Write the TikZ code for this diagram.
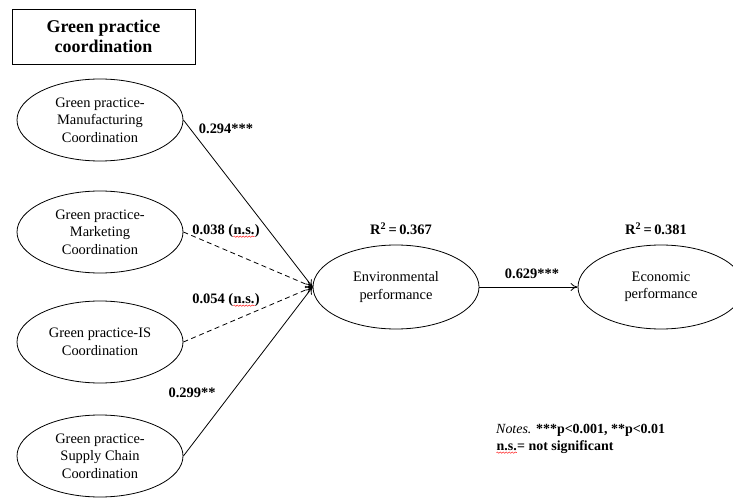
\documentclass[tikz,border=0pt]{standalone}
\usepackage{fontspec}
\setmainfont{Liberation Serif}
\usetikzlibrary{arrows.meta,positioning,shapes.geometric,decorations.pathmorphing}

\newcommand{\nswave}{\tikz[baseline=(t.base)]{\node[inner sep=0pt,font=\bfseries] (t) {n.s.};
 \draw[red,line width=0.4pt,decorate,decoration={snake,amplitude=0.7pt,segment length=3pt}] ([yshift=-2.2pt]t.base west) -- ([yshift=-2.2pt]t.base east);}}

\begin{document}
\begin{tikzpicture}[x=1bp,y=-1bp,line width=0.8bp,
 every node/.style={font=\fontsize{13}{16}\selectfont},
 e/.style={draw,ellipse,minimum width=166bp,minimum height=82bp,inner sep=0pt,align=center,font=\fontsize{14.5}{17.5}\selectfont},
 lab/.style={font=\bfseries\fontsize{14.5}{16}\selectfont,inner sep=1pt},
 arr/.style={-{To[length=7pt,width=8pt]}},
 dsh/.style={dash pattern=on 5bp off 3.5bp}]
\useasboundingbox (0,0) rectangle (733,498);
\node[draw,minimum width=183bp,minimum height=55bp,align=center,font=\bfseries\fontsize{18}{20.5}\selectfont] (title) at (103.5,36.5) {Green practice\\coordination};
\node[e] (man) at (100,120) {Green practice-\\Manufacturing\\Coordination};
\node[e] (mkt) at (100,232) {Green practice-\\Marketing\\Coordination};
\node[e] (is) at (100,342) {Green practice-IS\\Coordination};
\node[e] (sc) at (100,456) {Green practice-\\Supply Chain\\Coordination};
\node[e,minimum height=84bp] (env) at (396,287) {Environmental\\performance};
\node[e,minimum height=84bp] (eco) at (661,287) {Economic\\performance};
% paths
\draw[arr] (man.east) -- (env.west);
\draw[arr,dsh] (mkt.east) -- (env.west);
\draw[arr,dsh] (is.east) -- (env.west);
\draw[arr] (sc.east) -- (env.west);
\draw[arr] (env.east) -- (eco.west);
% coefficients
\node[lab] (c1) at (226,129) {0.294***};
\node[lab] (c2) at (226,231) {0.038 (\nswave)};
\node[lab] (c3) at (226,300) {0.054 (\nswave)};
\node[lab] (c4) at (192,393) {0.299**};
\node[lab] (c5) at (532,274) {0.629***};
\node[lab] (r1) at (401,229) {R\textsuperscript{2}\,=\,0.367};
\node[lab] (r2) at (656,229) {R\textsuperscript{2}\,=\,0.381};
\node[lab,anchor=north west,align=left,font=\bfseries\fontsize{14}{17}\selectfont] (notes) at (495,423) {\textit{\mdseries Notes.} ***p<0.001, **p<0.01\\\nswave= not significant};
\end{tikzpicture}
\end{document}
